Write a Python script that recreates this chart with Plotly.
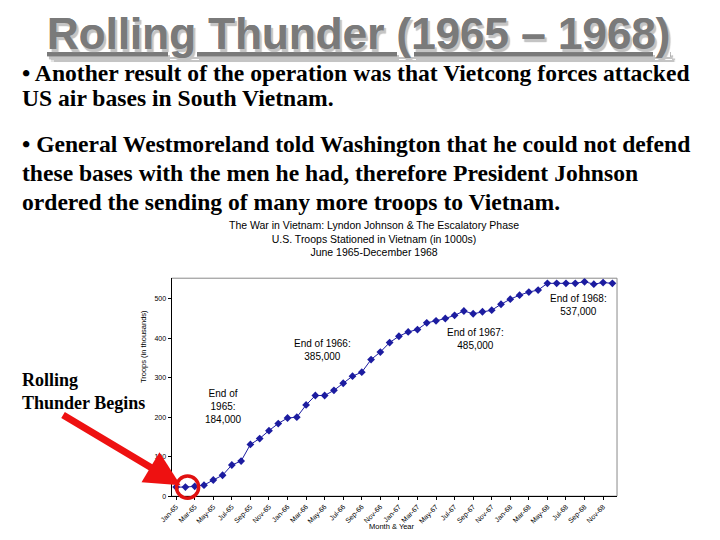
import plotly.graph_objects as go

months = ["Jan-65","Feb-65","Mar-65","Apr-65","May-65","Jun-65","Jul-65","Aug-65","Sep-65","Oct-65","Nov-65","Dec-65",
          "Jan-66","Feb-66","Mar-66","Apr-66","May-66","Jun-66","Jul-66","Aug-66","Sep-66","Oct-66","Nov-66","Dec-66",
          "Jan-67","Feb-67","Mar-67","Apr-67","May-67","Jun-67","Jul-67","Aug-67","Sep-67","Oct-67","Nov-67","Dec-67",
          "Jan-68","Feb-68","Mar-68","Apr-68","May-68","Jun-68","Jul-68","Aug-68","Sep-68","Oct-68","Nov-68","Dec-68"]
troops = [23, 23, 25, 28, 41, 53, 79, 89, 131, 146, 166, 184,
          198, 200, 231, 255, 255, 268, 286, 304, 314, 346, 365, 389,
          405, 416, 422, 439, 444, 450, 458, 469, 462, 467, 471, 486,
          499, 509, 517, 522, 539, 539, 539, 539, 543, 537, 541, 539]
tick_labels = ["Jan-65","Mar-65","May-65","Jul-65","Sep-65","Nov-65",
               "Jan-66","Mar-66","May-66","Jul-66","Sep-66","Nov-66",
               "Jan-67","Mar-67","May-67","Jul-67","Sep-67","Nov-67",
               "Jan-68","Mar-68","May-68","Jul-68","Sep-68","Nov-68"]
y_ticks = [0, 100, 200, 300, 400, 500]
notes = [("Dec-65", "End of<br>1965:<br>184,000"),
         ("Dec-66", "End of 1966:<br>385,000"),
         ("Dec-67", "End of 1967:<br>485,000"),
         ("Dec-68", "End of 1968:<br>537,000")]

W, H = 720, 540
# map a target picture position to paper coordinates (compensates the page offset/scale)
def px(x): return max(0.0, (x - 22) / 0.98) / W
def py(y): return 1 - (y - 10) / 0.99 / H

fig = go.Figure()
fig.add_trace(go.Scatter(
    x=list(range(len(months))), y=troops, mode="lines+markers",
    line=dict(color="#1c1ca0", width=1),
    marker=dict(symbol="diamond", size=6, color="#1c1ca0"),
    hovertext=months, showlegend=False))

fig.update_layout(
    width=W, height=H, margin=dict(l=0, r=0, t=0, b=0),
    paper_bgcolor="white", plot_bgcolor="white",
    xaxis=dict(domain=[px(173), px(617)], range=[-0.5, 47.5],
               tickvals=[months.index(t) for t in tick_labels], ticktext=tick_labels,
               tickangle=-45, ticks="outside", ticklen=3, tickcolor="black",
               showline=True, linecolor="black", linewidth=1, showgrid=False, zeroline=False,
               tickfont=dict(family="Liberation Sans", size=7, color="black")),
    yaxis=dict(domain=[py(496), py(279)], range=[0, 552], tickvals=y_ticks,
               ticks="outside", ticklen=3, tickcolor="black",
               showline=True, linecolor="black", linewidth=1, showgrid=False, zeroline=False,
               tickfont=dict(family="Liberation Sans", size=7, color="black")),
)

fig.add_shape(type="rect", xref="paper", yref="paper", x0=px(173), x1=px(617), y0=py(496), y1=py(279),
              line=dict(color="#8a8a8a", width=1), layer="below")

ann = []
ann.append(dict(x=px(360), y=py(35), text="<b><u>Rolling Thunder (1965 – 1968)</u></b>", showarrow=False,
                font=dict(family="Liberation Sans", size=44, color="#7a7a7a", shadow="2px 3px 1px #c4c4c4"),
                xanchor="center", yanchor="middle"))
body = [(75, "• Another result of the operation was that Vietcong forces attacked"),
        (100, "US air bases in South Vietnam."),
        (145, "• General Westmoreland told Washington that he could not defend"),
        (174, "these bases with the men he had, therefore President Johnson"),
        (203, "ordered the sending of many more troops to Vietnam.")]
for y, t in body:
    ann.append(dict(x=px(8), y=py(y), text="<b>" + t + "</b>", showarrow=False, xanchor="left", yanchor="middle",
                    font=dict(family="Liberation Serif", size=23.6, color="black")))
ann.append(dict(x=px(375), y=py(239), text="The War in Vietnam: Lyndon Johnson & The Escalatory Phase<br>U.S. Troops Stationed in Vietnam (in 1000s)<br>June 1965-December 1968",
                showarrow=False, xanchor="center", yanchor="middle",
                font=dict(family="Liberation Sans", size=10.5, color="black")))
ann.append(dict(x=px(138), y=py(385), text="Troops (in thousands)", textangle=-90, showarrow=False,
                font=dict(family="Liberation Sans", size=7.5, color="black")))
ann.append(dict(x=px(393), y=py(533), text="Month & Year", showarrow=False,
                font=dict(family="Liberation Sans", size=7.5, color="black")))
note_pos = {"Dec-65": (225, 407), "Dec-66": (323, 350), "Dec-67": (476, 340), "Dec-68": (579, 306)}
for m, t in notes:
    x, y = note_pos[m]
    ann.append(dict(x=px(x), y=py(y), text=t, showarrow=False, xanchor="center", yanchor="middle",
                    font=dict(family="Liberation Sans", size=10, color="black")))
ann.append(dict(x=px(8), y=py(392), text="<b>Rolling<br>Thunder Begins</b>", showarrow=False,
                xanchor="left", yanchor="middle", align="left",
                font=dict(family="Liberation Serif", size=18, color="black")))
ann.append(dict(x=px(182), y=py(485), ax=-119, ay=-71, axref="pixel", ayref="pixel",
                text="", showarrow=True,
                arrowhead=2, arrowsize=1, arrowwidth=7, arrowcolor="#ee1111"))
for a in ann:
    a.setdefault("xref", "paper"); a.setdefault("yref", "paper")
fig.update_layout(annotations=ann)

fig.add_shape(type="circle", xref="paper", yref="paper", x0=px(178), x1=px(200), y0=py(498), y1=py(476),
              line=dict(color="#e01010", width=3.5))

fig.write_html("out.html")
